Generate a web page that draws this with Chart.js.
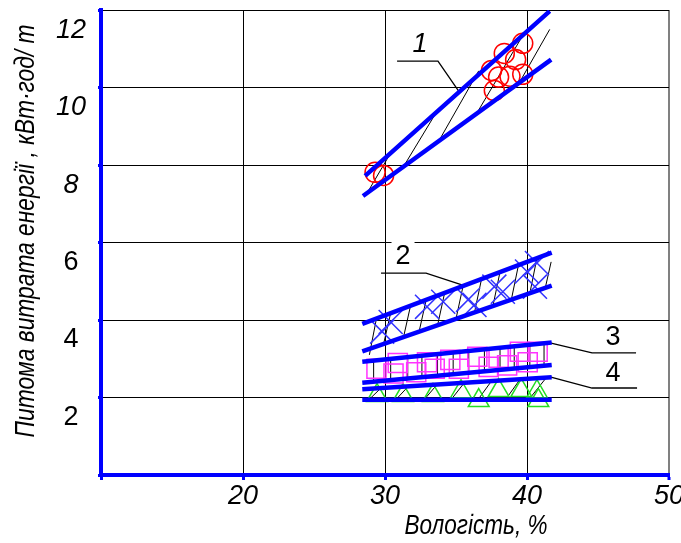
<!DOCTYPE html>
<html>
<head>
<meta charset="utf-8">
<script src="https://cdn.jsdelivr.net/npm/chart.js@4"></script>
<style>
html, body { margin: 0; padding: 0; background: #fff; }
#wrap { width: 681px; height: 543px; }
</style>
</head>
<body>
<div id="wrap"><canvas id="moist"></canvas></div>
<script>
const FONT = "'Liberation Sans Narrow', 'Liberation Sans', Arial, sans-serif"

// curve 1 - red circles
const moist1 = [29.3, 29.9, 37.7, 38.0, 37.5, 38.8, 39.2, 38.4, 39.7, 39.7]
const energy1 = [7.81, 7.73, 9.92, 10.27, 10.44, 10.29, 10.72, 10.88, 10.34, 11.14]
// curve 2 - blue crosses
const moist2 = [29.8, 30.4, 32.96, 34.1, 35.85, 36.3, 37.7, 38.3, 40.0, 40.7, 40.56]
const energy2 = [3.7, 3.95, 4.34, 4.47, 4.52, 4.39, 4.86, 4.73, 5.25, 5.47, 4.86]
// curve 3 - magenta squares
const moist3 = [29.4, 30.9, 30.6, 32.2, 32.96, 33.5, 34.6, 35.2, 36.5, 37.3, 38.0, 38.6, 39.5, 40.05, 40.75]
const energy3 = [2.74, 2.89, 2.62, 2.65, 2.91, 2.74, 2.97, 2.74, 3.05, 2.79, 3.03, 2.83, 3.18, 2.91, 3.18]
// curve 4 - green triangles
const moist4 = [29.44, 31.27, 33.38, 35.35, 36.6, 38.0, 39.6, 40.7, 40.8]
const energy4 = [2.05, 2.05, 2.05, 2.15, 1.92, 2.18, 2.18, 2.15, 1.92]

// confidence band borders: [x0, y0, x1, y1]
const band1 = [[28.6, 7.72, 41.6, 11.97], [28.45, 7.2, 41.7, 10.72]]
const band2 = [[28.4, 3.9, 41.74, 5.74], [28.4, 3.19, 41.74, 4.89]]
const band3 = [[28.4, 2.92, 41.74, 3.42], [28.4, 2.38, 41.74, 2.84]]
const band4 = [[28.4, 2.21, 41.74, 2.52], [28.4, 1.94, 41.74, 1.94]]

// hatching inside the bands
const hatch1 = [[28.7, 7.25, 30.35, 8.28], [31.37, 8.0, 33.6, 9.35], [33.9, 8.69, 36.6, 10.43], [36.6, 9.42, 39.86, 11.44], [39.5, 10.15, 41.6, 11.5]]
const hatch2 = [[28.9, 3.1, 29.4, 4.04], [29.9, 3.38, 30.4, 4.18], [31.3, 3.55, 31.8, 4.37], [32.4, 3.7, 32.9, 4.52], [33.7, 3.86, 34.2, 4.7],
  [35.0, 4.03, 35.5, 4.88], [36.3, 4.19, 36.8, 5.06], [37.6, 4.36, 38.1, 5.24], [38.9, 4.53, 39.4, 5.42], [40.2, 4.69, 40.7, 5.6], [41.3, 4.85, 41.7, 5.5]]
const hatch3 = [[29.2, 2.41, 29.2, 2.95], [30.4, 2.45, 30.4, 3.0], [31.6, 2.49, 31.6, 3.04], [32.6, 2.52, 32.6, 3.08], [33.7, 2.56, 33.7, 3.12], [34.8, 2.59, 34.8, 3.17],
  [35.9, 2.63, 35.9, 3.21], [37.0, 2.66, 37.0, 3.25], [38.1, 2.7, 38.1, 3.3], [39.1, 2.73, 39.1, 3.34], [40.2, 2.77, 40.2, 3.38], [41.2, 2.8, 41.2, 3.42]]
const hatch4 = [[28.8, 1.92, 29.85, 2.29], [30.7, 1.92, 31.75, 2.33], [32.7, 1.92, 33.75, 2.37], [34.6, 1.92, 35.65, 2.41],
  [36.5, 1.92, 37.55, 2.45], [38.5, 1.95, 39.55, 2.49], [40.2, 1.98, 41.4, 2.53]]

// leader lines to the curve numbers
const leaderX = [[30.85, 33.73, 35.2], [29.72, 32.89, 35.63], [41.62, 44.58, 47.68], [41.62, 44.58, 47.75]]
const leaderY = [[10.68, 10.68, 9.9], [5.21, 5.21, 4.88], [3.41, 3.15, 3.15], [2.53, 2.245, 2.245]]
const curveNames = ['1', '2', '3', '4']
const nameX = [32.46, 31.27, 46.06, 46.06]
const nameY = [11.1, 5.63, 3.56, 2.63]

const xTitle = 'Вологість, %'
const yTitle = 'Питома витрата енергії , кВт·год/ т'

const pts = (xs, ys) => xs.map((v, i) => ({x: v, y: ys[i]}))
const segs = (list) => list.flatMap(s => [{x: s[0], y: s[1]}, {x: s[2], y: s[3]}, {x: s[2], y: null}])

const lineSet = (data, color, width, order) => ({
    data: data, showLine: true, borderColor: color, borderWidth: width,
    pointRadius: 0, pointHoverRadius: 0, fill: false, order: order
})
const markSet = (data, style, radius, color) => ({
    data: data, showLine: false, pointStyle: style, pointRadius: radius, pointHoverRadius: radius,
    pointBorderColor: color, pointBackgroundColor: 'rgba(0,0,0,0)', pointBorderWidth: 1.5, order: 1
})

const datasets = []
;[band1, band2, band3, band4].forEach(b => datasets.push(lineSet(segs(b), '#0000ff', 4.5, 0)))
;[hatch1, hatch2, hatch3, hatch4].forEach(h => datasets.push(lineSet(segs(h), '#000000', 1, 2)))
leaderX.forEach((lx, i) => datasets.push(lineSet(pts(lx, leaderY[i]), '#000000', 1.3, 0)))
datasets.push(markSet(pts(moist1, energy1), 'circle', 10, '#ff0000'))
datasets.push(markSet(pts(moist2, energy2), 'crossRot', 17, '#3333ff'))
datasets.push(markSet(pts(moist3, energy3), 'rect', 13.5, '#ff33ff'))
datasets.push(markSet(pts(moist4, energy4), 'triangle', 12, '#22dd22'))

// draws text squeezed to a given width (the original uses a narrow face)
function narrowText(ctx, text, x, y, width, angle) {
    ctx.save()
    ctx.translate(x, y)
    ctx.rotate(angle)
    ctx.scale(width / ctx.measureText(text).width, 1)
    ctx.fillText(text, 0, 0)
    ctx.restore()
}

const textLayer = {
    id: 'textLayer',
    afterDatasetsDraw(chart) {
        const {ctx, scales: {x, y}} = chart
        ctx.save()
        ctx.textAlign = 'center'
        ctx.textBaseline = 'middle'
        curveNames.forEach((t, i) => {
            const px = x.getPixelForValue(nameX[i])
            const py = y.getPixelForValue(nameY[i])
            ctx.font = (i === 0 ? 'italic ' : '') + '27px ' + FONT
            const w = ctx.measureText(t).width
            ctx.fillStyle = '#fff'
            ctx.fillRect(px - w / 2 - 4, py - 15, w + 8, 26)
            ctx.fillStyle = '#000'
            ctx.fillText(t, px, py)
        })
        ctx.font = 'italic 28px ' + FONT
        narrowText(ctx, xTitle, 476, 526, 143, 0)
        narrowText(ctx, yTitle, 26, 231, 413, -Math.PI / 2)
        ctx.restore()
    }
}

const moistChart = new Chart(
    document.getElementById('moist'),
    {
        type: 'scatter',
        data: { datasets: datasets },
        options: {
            responsive: true,
            maintainAspectRatio: false,
            animation: false,
            layout: { padding: { top: 10, right: 12, left: 0, bottom: 0 }, autoPadding: false },
            plugins: { legend: { display: false }, tooltip: { enabled: false } },
            scales: {
                x: {
                    type: 'linear', min: 10, max: 50,
                    afterFit: (s) => { s.height = 68; s.paddingLeft = 0; s.paddingRight = 0 },
                    ticks: {
                        stepSize: 10, autoSkip: false, maxRotation: 0, padding: 0, color: '#000',
                        callback: (v) => v === 10 ? '' : v,
                        font: { family: FONT, size: 27, style: 'italic' }
                    },
                    grid: {
                        color: (c) => c.tick && c.tick.value === 50 ? '#808080' : '#000',
                        lineWidth: (c) => c.tick && c.tick.value === 50 ? 2 : 1,
                        tickColor: '#0000ff', tickWidth: 3, tickLength: 5
                    },
                    border: { color: '#0000ff', width: 4 }
                },
                y: {
                    type: 'linear', min: 0, max: 12,
                    afterFit: (s) => { s.width = 101; s.paddingTop = 0; s.paddingBottom = 0 },
                    ticks: {
                        stepSize: 2, crossAlign: 'center', padding: 12, labelOffset: 20, color: '#000',
                        callback: (v) => v === 0 ? '' : v,
                        font: (c) => ({ family: FONT, size: 27, style: c.tick && c.tick.value >= 8 ? 'italic' : 'normal' })
                    },
                    grid: { color: '#000', lineWidth: 1, tickColor: '#0000ff', tickWidth: 3, tickLength: 3 },
                    border: { color: '#0000ff', width: 4 }
                }
            }
        },
        plugins: [textLayer]
    }
)
</script>
</body>
</html>
